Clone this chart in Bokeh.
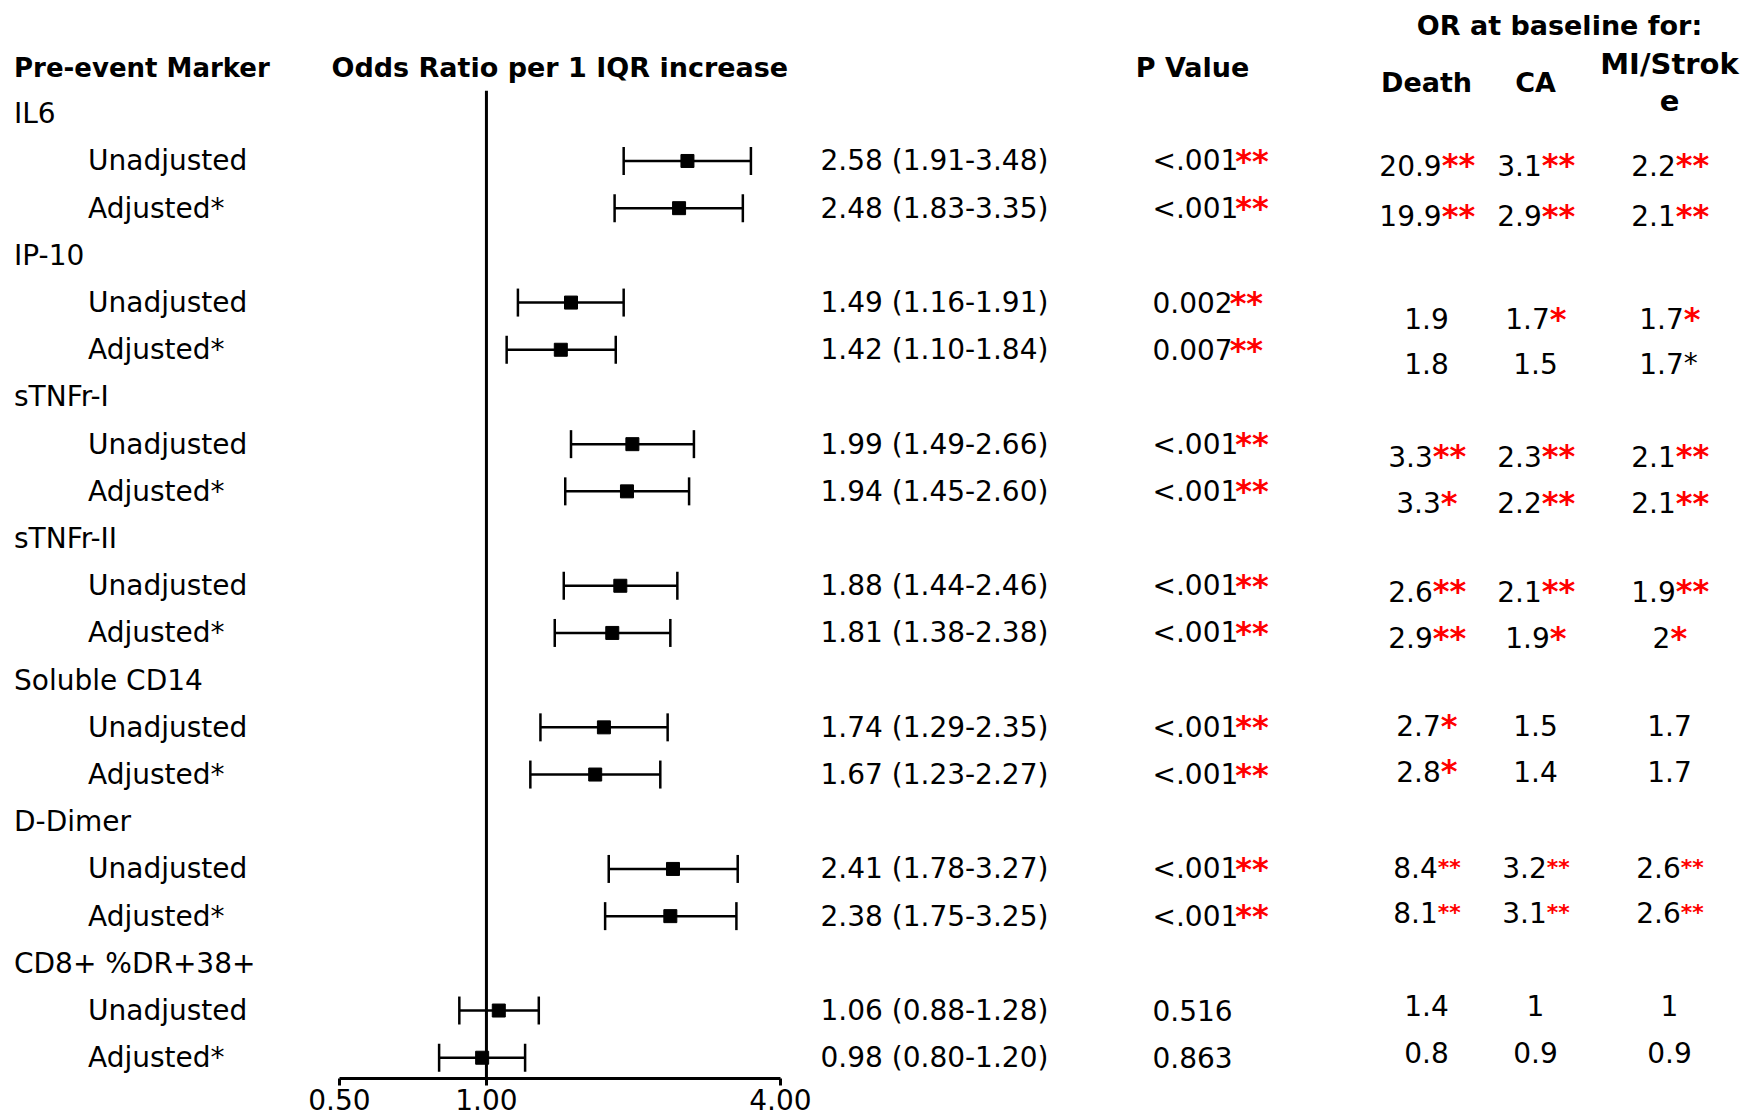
from bokeh.plotting import figure
from bokeh.models import (ColumnDataSource, LabelSet, Label, Range1d, FixedTicker,
                          NumeralTickFormatter, Whisker, TeeHead)
from bokeh.core.properties import value
from bokeh.embed import file_html
from bokeh.resources import INLINE

# ---------------- data ----------------
markers = ["IL6", "IP-10", "sTNFr-I", "sTNFr-II", "Soluble CD14", "D-Dimer", "CD8+ %DR+38+"]
models = ["Unadjusted", "Adjusted*"]

or_est = [2.58, 2.48, 1.49, 1.42, 1.99, 1.94, 1.88, 1.81, 1.74, 1.67, 2.41, 2.38, 1.06, 0.98]
or_lo = [1.91, 1.83, 1.16, 1.10, 1.49, 1.45, 1.44, 1.38, 1.29, 1.23, 1.78, 1.75, 0.88, 0.80]
or_hi = [3.48, 3.35, 1.91, 1.84, 2.66, 2.60, 2.46, 2.38, 2.35, 2.27, 3.27, 3.25, 1.28, 1.20]

p_text = ["<.001", "<.001", "0.002", "0.007", "<.001", "<.001", "<.001", "<.001",
          "<.001", "<.001", "<.001", "<.001", "0.516", "0.863"]
p_sig = ["**"] * 12 + ["", ""]

death = ["20.9", "19.9", "1.9", "1.8", "3.3", "3.3", "2.6", "2.9", "2.7", "2.8", "8.4", "8.1", "1.4", "0.8"]
death_sig = ["**", "**", "", "", "**", "*", "**", "**", "*", "*", "**", "**", "", ""]
ca = ["3.1", "2.9", "1.7", "1.5", "2.3", "2.2", "2.1", "1.9", "1.5", "1.4", "3.2", "3.1", "1", "0.9"]
ca_sig = ["**", "**", "*", "", "**", "**", "**", "*", "", "", "**", "**", "", ""]
mi = ["2.2", "2.1", "1.7", "1.7", "2.1", "2.1", "1.9", "2", "1.7", "1.7", "2.6", "2.6", "1", "0.9"]
mi_sig = ["**", "**", "*", "*", "**", "**", "**", "*", "", "", "**", "**", "", ""]
mi_sig_black = [False, False, False, True] + [False] * 10

axis_ticks = [0.5, 1, 4]

# ---------------- layout constants ----------------
FONT = "DejaVu Sans"
FS = 28
RED = "#FF0000"
n = len(or_est)
rows = [3 * (i // 2) + 1 + (i % 2) for i in range(n)]
group_rows = [3 * g for g in range(len(markers))]
tbl_dy = [0.09, 0.16, 0.34, 0.29, 0.26, 0.24, 0.12, 0.10, -0.03, -0.07, -0.03, -0.08, -0.11, -0.11]
tbl_rows = [r + d for r, d in zip(rows, tbl_dy)]
star_fs_rows = [32] * 10 + [22, 22] + [32, 32]
Y_BOTTOM = 20.44
Y_TOP = -2.40

CW = {"0": 0.636, "1": 0.636, "2": 0.636, "3": 0.636, "4": 0.636, "5": 0.636,
      "6": 0.636, "7": 0.636, "8": 0.636, "9": 0.636, ".": 0.318, "<": 0.838, " ": 0.318}


def tw(s, fs):
    return sum(CW.get(c, 0.6) for c in s) * fs


p = figure(width=1759, height=1118, x_axis_type="log",
           x_range=Range1d(0.10114, 404.5), y_range=Range1d(Y_BOTTOM, Y_TOP),
           output_backend="svg", toolbar_location=None, min_border=0,
           min_border_bottom=40,
           y_axis_location=None, outline_line_color=None,
           background_fill_color="white", border_fill_color="white")
p.grid.visible = False

ax = p.xaxis[0]
ax.ticker = FixedTicker(ticks=axis_ticks, minor_ticks=[])
ax.formatter = NumeralTickFormatter(format="0.00")
ax.bounds = (axis_ticks[0], axis_ticks[-1])
ax.axis_line_width = 3
ax.axis_line_color = "black"
ax.major_tick_in = 0
ax.major_tick_out = 7
ax.major_tick_line_width = 3
ax.major_tick_line_color = "black"
ax.minor_tick_line_color = None
ax.major_label_text_font = FONT
ax.major_label_text_font_size = f"{FS}px"
ax.major_label_text_color = "black"
ax.major_label_standoff = 3

# reference line at OR = 1
p.segment(x0=[1.0], y0=[-0.49], x1=[1.0], y1=[Y_BOTTOM], line_width=3, line_color="black")

# forest
src = ColumnDataSource(dict(y=rows, est=or_est, lo=or_lo, hi=or_hi))
wh = Whisker(source=src, base="y", lower="lo", upper="hi", dimension="width",
             line_width=2.5, line_color="black",
             lower_head=TeeHead(size=28, line_width=2.5, line_color="black"),
             upper_head=TeeHead(size=28, line_width=2.5, line_color="black"))
p.add_layout(wh)
p.scatter("est", "y", source=src, marker="square", size=13, color="black")


def labels(xs, ys, texts, align="left", color="black", size=FS, style="normal"):
    s = ColumnDataSource(dict(x=xs, y=ys, t=texts))
    ls = LabelSet(x="x", y="y", text="t", source=s, x_units="screen", y_units="data",
                  text_align=value(align), text_baseline=value("middle"), text_color=value(color),
                  text_font=value(FONT), text_font_size=value(f"{size}px"),
                  text_font_style=value(style))
    p.add_layout(ls)


# left labels
labels([13.5] * len(markers), group_rows, markers)
labels([87.5] * n, rows, [models[i % 2] for i in range(n)])

# OR text
or_txt = [f"{e:.2f} ({l:.2f}-{h:.2f})" for e, l, h in zip(or_est, or_lo, or_hi)]
labels([820] * n, rows, or_txt)

# P values
labels([1152] * n, rows, p_text)
px_star = [1152 + tw(t, FS) - 3 for t in p_text]
labels(px_star, rows, p_sig, color=RED, size=32, style="bold")


def table_col(vals, sigs, xc, black=None):
    num_x = []
    for v, s, sf in zip(vals, sigs, star_fs_rows):
        wn = tw(v, FS)
        ws = 0.5 * sf * len(s)
        num_x.append(xc - (wn + ws) / 2 + wn)
    labels(num_x, tbl_rows, vals, align="right")
    black = black or [False] * n
    for sf in sorted(set(star_fs_rows)):
        idx = [i for i in range(n) if star_fs_rows[i] == sf and sigs[i] and not black[i]]
        if idx:
            labels([num_x[i] for i in idx], [tbl_rows[i] for i in idx], [sigs[i] for i in idx],
                   color=RED, size=sf, style="bold")
    idx = [i for i in range(n) if black[i] and sigs[i]]
    if idx:
        labels([num_x[i] for i in idx], [tbl_rows[i] for i in idx], [sigs[i] for i in idx],
               color="black", size=FS, style="normal")


table_col(death, death_sig, 1426)
table_col(ca, ca_sig, 1535)
table_col(mi, mi_sig, 1669, mi_sig_black)


def header(text, x, y, align="left", size=27):
    p.add_layout(Label(x=x, y=y, x_units="screen", y_units="data", text=text,
                       text_align=align, text_baseline="middle", text_font=FONT,
                       text_font_size=f"{size}px", text_font_style="bold", text_color="black"))


header("Pre-event Marker", 13.5, -0.98, size=26)
header("Odds Ratio per 1 IQR increase", 331, -0.98)
header("P Value", 1192, -0.98, align="center")
header("OR at baseline for:", 1559, -1.87, align="center")
header("Death", 1426, -0.67, align="center")
header("CA", 1535, -0.67, align="center")
header("MI/Strok", 1669, -1.05, align="center", size=29)
header("e", 1669, -0.28, align="center", size=29)

open("out.html", "w").write(file_html(p, INLINE))
